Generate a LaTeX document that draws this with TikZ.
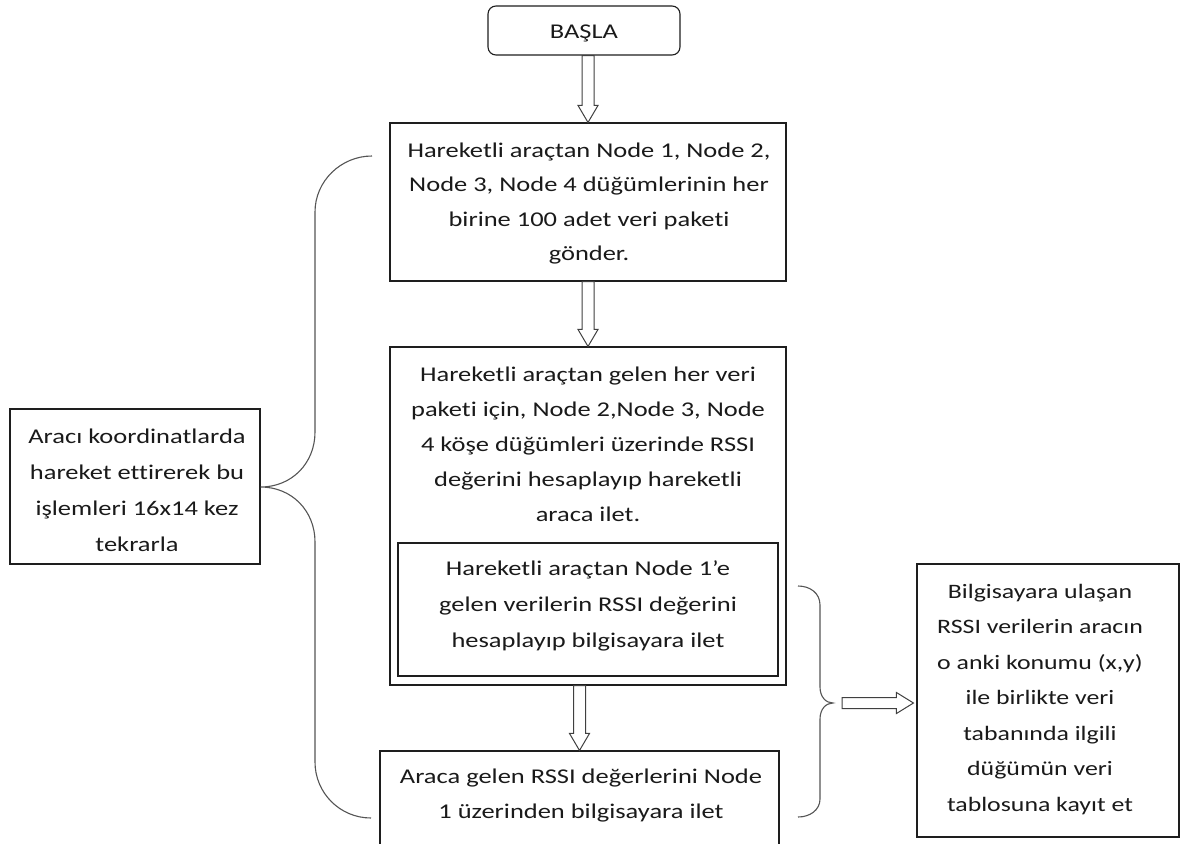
\documentclass[tikz,border=0pt]{standalone}
\usepackage{fontspec}
\setmainfont{Carlito}[FakeStretch=1.26, Ligatures=NoCommon]
\usetikzlibrary{calc}
\definecolor{edge}{HTML}{1E1E1E}
\definecolor{brace}{HTML}{555555}
\definecolor{ink}{HTML}{1A1A1A}
\tikzset{
  box/.style={draw=edge, line width=1.1pt, rectangle, inner sep=0pt, fill=white},
  txt/.style={inner sep=0pt, anchor=north, align=center, text=ink},
  blk/.style={draw=edge!85, line width=1pt, fill=white, line join=miter},
  bracepath/.style={draw=brace, line width=1.1pt},
}
% hollow block arrow pointing down from node #1 to node #2
\newcommand\downblock[2]{%
  \draw[blk] ($(#1.south -| #2.north)+(-6,0)$) -- ($(#2.north)+(-6,-17)$)
    -- ($(#2.north)+(-10,-17)$) -- (#2.north) -- ($(#2.north)+(10,-17)$)
    -- ($(#2.north)+(6,-17)$) -- ($(#1.south -| #2.north)+(6,0)$) -- cycle;}
\begin{document}
\begin{tikzpicture}[x=1pt, y=-1pt, font=\fontsize{21}{35}\selectfont]
\useasboundingbox (0,0) rectangle (1182,843);

% boxes of the flow
\node[box, rounded corners=8pt, minimum width=192pt, minimum height=49pt] (start) at (584,30.5) {};
\node[anchor=base, inner sep=0pt, text=ink] (starttxt) at (584,39) {BAŞLA};

\node[box, minimum width=396pt, minimum height=158pt] (send) at (588,202) {};
\node[txt, font=\fontsize{21}{34.5}\selectfont] (sendtxt) at (589,132.9)
  {\strut Hareketli araçtan Node 1, Node 2,\\Node 3, Node 4 düğümlerinin her\\birine 100 adet veri paketi\\gönder.};

\node[box, minimum width=396pt, minimum height=338pt] (calc) at (588,516) {};
\node[txt, font=\fontsize{21}{35}\selectfont] (calctxt) at (588,356.5)
  {\strut Hareketli araçtan gelen her veri\\paketi için, Node 2,Node 3, Node\\4 köşe düğümleri üzerinde RSSI\\değerini hesaplayıp hareketli\\araca ilet.};

\node[box, minimum width=380pt, minimum height=133pt] (inner) at (588,609.5) {};
\node[txt, font=\fontsize{21}{36}\selectfont] (innertxt) at (588,549.8)
  {\strut Hareketli araçtan Node 1’e\\gelen verilerin RSSI değerini\\hesaplayıp bilgisayara ilet};

\node[box, minimum width=399pt, minimum height=99pt] (relay) at (579.5,800.5) {};
\node[txt, font=\fontsize{21}{35}\selectfont] (relaytxt) at (581,758.5)
  {\strut Araca gelen RSSI değerlerini Node\\1 üzerinden bilgisayara ilet};

\node[box, minimum width=250pt, minimum height=155pt] (loop) at (135,486.5) {};
\node[txt, font=\fontsize{21}{36}\selectfont] (looptxt) at (137,417.8)
  {\strut Aracı koordinatlarda\\hareket ettirerek bu\\işlemleri 16x14 kez\\tekrarla};

\node[box, minimum width=262pt, minimum height=273pt] (store) at (1048,700.5) {};
\node[txt, font=\fontsize{20.5}{35.5}\selectfont] (storetxt) at (1040,573.2)
  {\strut Bilgisayara ulaşan\\RSSI verilerin aracın\\o anki konumu (x,y)\\ile birlikte veri\\tabanında ilgili\\düğümün veri\\tablosuna kayıt et};

% flow arrows
\downblock{start}{send}
\downblock{send}{calc}
\downblock{calc}{relay}

% left brace: the loop over the whole sequence
\coordinate (lbtop) at (372,156);
\coordinate (lbbot) at (371,818);
\coordinate (lbtip) at (loop.east |- 0,487);
\draw[bracepath] (lbtop) .. controls (341,156) and (315,181) .. (315,212)
  -- (315,432) .. controls (315,463) and (292,487) .. (lbtip)
  .. controls (292,487) and (315,511) .. (315,542)
  -- (315,762) .. controls (315,793) and (340,818) .. (lbbot);

% right brace: the data sent to the computer
\coordinate (rbtop) at (798,586);
\coordinate (rbbot) at (798,817);
\coordinate (rbtip) at (833,703);
\draw[bracepath] (rbtop) .. controls (810,586) and (820,593) .. (820,605)
  -- (820,687) .. controls (820,697) and (826,703) .. (rbtip)
  .. controls (826,703) and (820,709) .. (820,719)
  -- (820,799) .. controls (820,810) and (810,817) .. (rbbot);

% arrow into the storage step
\coordinate (rtip) at ($(store.west |- rbtip)+(-3,0)$);
\draw[blk] ($(rbtip)+(9,-5.5)$) -- ($(rtip)+(-17,-5.5)$) -- ($(rtip)+(-17,-10.5)$)
  -- (rtip) -- ($(rtip)+(-17,10.5)$) -- ($(rtip)+(-17,5.5)$) -- ($(rbtip)+(9,5.5)$) -- cycle;
\end{tikzpicture}
\end{document}
